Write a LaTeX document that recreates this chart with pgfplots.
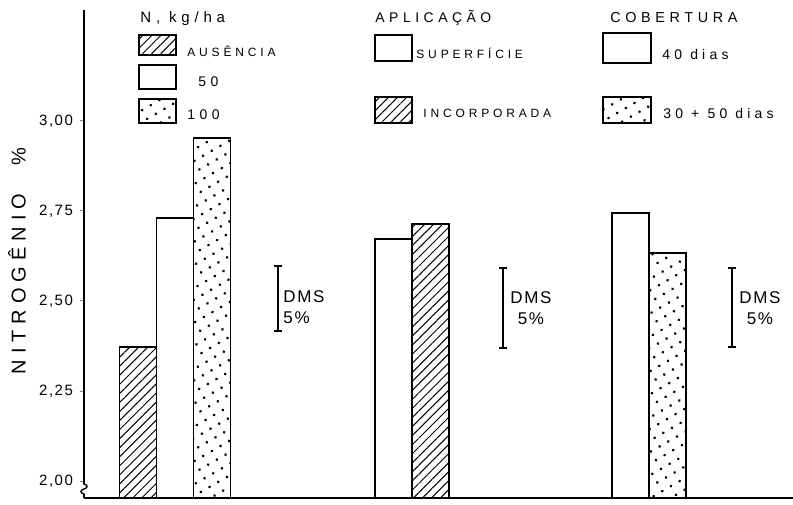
\documentclass[border=0pt]{standalone}
\usepackage{fontspec}
\setmainfont{Liberation Sans}
\newfontfamily\spaced[LetterSpace=32]{Liberation Sans}
\newfontfamily\tickf[LetterSpace=10]{Liberation Sans}
\newfontfamily\labf[LetterSpace=30]{Liberation Sans}
\usepackage{pgfplots}
\pgfplotsset{compat=1.18}
\usetikzlibrary{patterns.meta}
\tikzset{
  hatch/.style={pattern={Lines[angle=45,distance=3.2pt,line width=0.5pt]}},
  dotpat/.style={pattern={Dots[angle=30,distance=5pt,radius=0.75pt]}},
}
\begin{document}
\begin{tikzpicture}
\begin{axis}[
  scale only axis, width=354.5pt, height=244pt,
  xmin=84, xmax=793, ymin=1.9528, ymax=3.3083,
  axis lines*=left,
  axis line style={line width=0.8pt},
  xtick=\empty,
  ytick={2,2.25,2.5,2.75,3},
  tick align=outside, major tick length=2pt,
  ytick style={line width=0.5pt},
  unbounded coords=jump,
  /pgf/number format/assume math mode=true,
  yticklabel style={font=\tickf\fontsize{7.5}{9}\selectfont, /pgf/number format/.cd, fixed, fixed zerofill, precision=2, use comma},
]
% N, kg/ha
\addplot[ybar, bar width=37, bar shift=0pt, draw=black, line width=0.8pt, hatch] coordinates {(138,2.372)};
\addplot[ybar, bar width=37, bar shift=0pt, draw=black, line width=0.8pt, fill=white] coordinates {(175,2.731)};
\addplot[ybar, bar width=37, bar shift=0pt, draw=black, line width=0.8pt, dotpat] coordinates {(212,2.953)};
% Aplicacao
\addplot[ybar, bar width=37, bar shift=0pt, draw=black, line width=0.8pt, fill=white] coordinates {(393.5,2.672)};
\addplot[ybar, bar width=37, bar shift=0pt, draw=black, line width=0.8pt, hatch] coordinates {(430.5,2.714)};
% Cobertura
\addplot[ybar, bar width=37, bar shift=0pt, draw=black, line width=0.8pt, fill=white] coordinates {(630.5,2.744)};
\addplot[ybar, bar width=37, bar shift=0pt, draw=black, line width=0.8pt, dotpat] coordinates {(667.5,2.633)};
% DMS 5% (least significant difference bars)
\addplot[black, line width=0.8pt, mark=none] coordinates {
  (278,2.417) (278,2.597) (nan,nan)
  (274,2.417) (282,2.417) (nan,nan)
  (274,2.597) (282,2.597) (nan,nan)
  (503,2.369) (503,2.592) (nan,nan)
  (499,2.369) (507,2.369) (nan,nan)
  (499,2.592) (507,2.592) (nan,nan)
  (732,2.372) (732,2.592) (nan,nan)
  (728,2.372) (736,2.372) (nan,nan)
  (728,2.592) (736,2.592)
};
\end{axis}
\begin{scope}[x=0.5pt,y=-0.5pt,shift={(-42pt,249pt)}]
  % axis break
  \fill[white] (81,484) rectangle (88,494);
  \draw[line width=0.7pt] (84,480) -- (84,484) .. controls (88,485) and (88,488) .. (84,489) .. controls (80,490) and (80,493) .. (84,494) -- (84,498);
  % y label
  \node[rotate=90, font=\labf\fontsize{10}{12}\selectfont] at (17,261) {NITROGÊNIO\hspace{14pt}\%};
  % legend column 1
  \node[anchor=west, inner sep=0pt, font=\spaced\fontsize{7.5}{9}\selectfont] at (140,19) {N, kg/ha};
  \draw[line width=0.6pt, hatch] (139,35) rectangle (176,55);
  \draw[line width=0.6pt, fill=white] (139,65) rectangle (176,89);
  \draw[line width=0.6pt, dotpat] (139,99) rectangle (176,123);
  \node[anchor=west, inner sep=0pt, font=\spaced\fontsize{6}{7}\selectfont] at (187,51) {AUSÊNCIA};
  \node[anchor=west, inner sep=0pt, font=\spaced\fontsize{7}{8}\selectfont] at (198,82) {50};
  \node[anchor=west, inner sep=0pt, font=\spaced\fontsize{7}{8}\selectfont] at (187,115) {100};
  % legend column 2
  \node[anchor=west, inner sep=0pt, font=\spaced\fontsize{7}{9}\selectfont] at (375,18) {APLICAÇÃO};
  \draw[line width=0.6pt, fill=white] (375,35) rectangle (412,61);
  \draw[line width=0.6pt, hatch] (375,97) rectangle (412,123);
  \node[anchor=west, inner sep=0pt, font=\spaced\fontsize{6}{7}\selectfont] at (416,53) {SUPERFÍCIE};
  \node[anchor=west, inner sep=0pt, font=\spaced\fontsize{6}{7}\selectfont] at (423,113) {INCORPORADA};
  % legend column 3
  \node[anchor=west, inner sep=0pt, font=\spaced\fontsize{7.2}{9}\selectfont] at (610,18) {COBERTURA};
  \draw[line width=0.6pt, fill=white] (603,33) rectangle (651,63);
  \draw[line width=0.6pt, dotpat] (603,97) rectangle (651,123);
  \node[anchor=west, inner sep=0pt, font=\labf\fontsize{7}{8}\selectfont] at (662,55) {40 dias};
  \node[anchor=west, inner sep=0pt, font=\labf\fontsize{7}{8}\selectfont] at (663,113) {30 + 50 dias};
  % DMS labels
  \node[anchor=west, inner sep=0pt, align=left, font=\tickf\fontsize{8.5}{10.5}\selectfont] at (283,307) {DMS\\5\%};
  \node[anchor=west, inner sep=0pt, align=center, font=\tickf\fontsize{8.5}{10.5}\selectfont] at (510,308) {DMS\\5\%};
  \node[anchor=west, inner sep=0pt, align=center, font=\tickf\fontsize{8.5}{10.5}\selectfont] at (739,308) {DMS\\5\%};
  % picture frame (bounding box)
  \pgfresetboundingbox
  \path (0,0) rectangle (793,504);
\end{scope}
\end{tikzpicture}
\end{document}
